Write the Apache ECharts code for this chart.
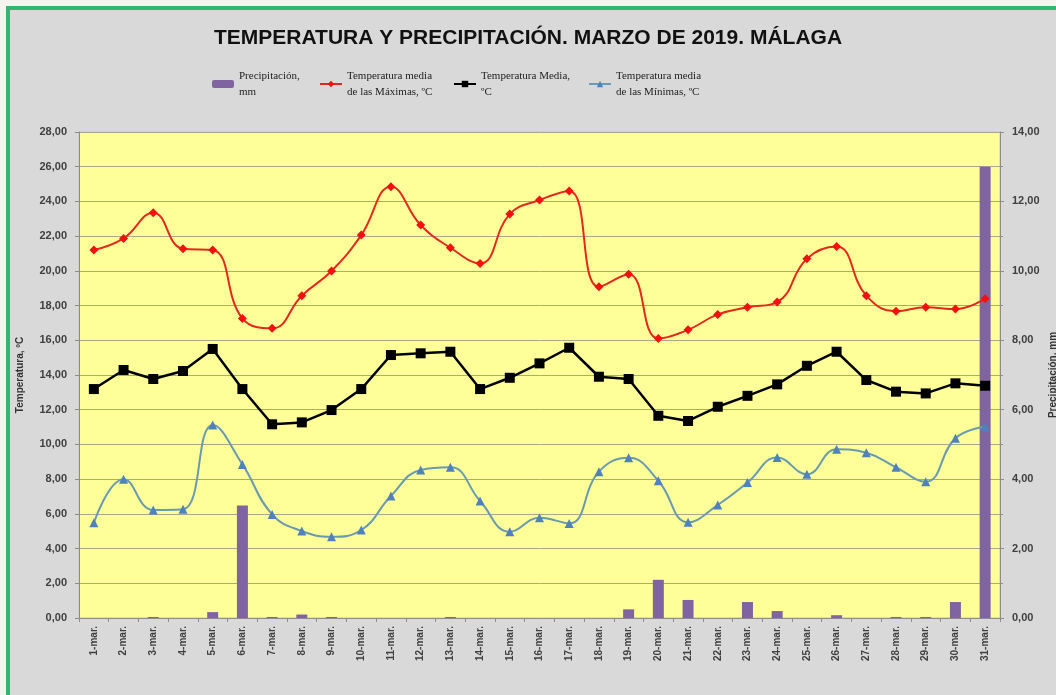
<!DOCTYPE html>
<html>
<head>
<meta charset="utf-8">
<script src="https://cdn.jsdelivr.net/npm/echarts@6/dist/echarts.min.js"></script>
<style>
html,body{margin:0;padding:0;background:#F5F5EE;width:1056px;height:695px;overflow:hidden;}
#bg{position:absolute;left:6px;top:6px;width:1046px;height:685px;border-left:4px solid #2EB872;border-top:4px solid #2EB872;background:#D9D9D9;}
#chart{position:absolute;left:0;top:0;width:1056px;height:695px;}
</style>
</head>
<body>
<div id="bg"></div>
<div id="chart"></div>
<script>
const days = ["1-mar.","2-mar.","3-mar.","4-mar.","5-mar.","6-mar.","7-mar.","8-mar.","9-mar.","10-mar.","11-mar.","12-mar.","13-mar.","14-mar.","15-mar.","16-mar.","17-mar.","18-mar.","19-mar.","20-mar.","21-mar.","22-mar.","23-mar.","24-mar.","25-mar.","26-mar.","27-mar.","28-mar.","29-mar.","30-mar.","31-mar."];
const precip = [0,0,0.03,0,0.17,3.24,0.03,0.1,0.03,0,0,0,0.03,0,0,0,0,0,0.25,1.1,0.52,0,0.46,0.2,0,0.08,0,0.03,0.03,0.46,13.0];
const tMax = [21.2,21.87,23.35,21.27,21.2,17.26,16.69,18.57,19.99,22.06,24.85,22.64,21.33,20.43,23.27,24.08,24.6,19.08,19.8,16.1,16.6,17.49,17.9,18.2,20.7,21.4,18.57,17.68,17.9,17.8,18.4];
const tMed = [13.19,14.29,13.77,14.23,15.5,13.19,11.16,11.27,11.98,13.19,15.15,15.25,15.34,13.19,13.84,14.67,15.57,13.9,13.77,11.65,11.35,12.17,12.8,13.46,14.53,15.34,13.71,13.04,12.94,13.52,13.38];
const tMin = [5.49,8.0,6.22,6.26,11.12,8.85,5.97,5.01,4.68,5.07,7.03,8.53,8.68,6.74,4.97,5.78,5.45,8.43,9.23,7.91,5.51,6.51,7.8,9.25,8.28,9.72,9.52,8.68,7.85,10.35,11.02];
const names = ["Precipitación,\nmm","Temperatura media\nde las Máximas, ºC","Temperatura Media,\nºC","Temperatura media\nde las Mínimas, ºC"];

const fmt = v => v.toFixed(2).replace('.', ',');
const legTxt = {fontFamily:'Liberation Serif',fontSize:11,color:'#222',lineHeight:16};
function leg(name, left){
  return {data:[name], left:left, top:68, itemWidth:22, itemHeight:8, itemGap:0, textStyle:legTxt, selectedMode:false, padding:0};
}
const axisLabelStyle = {fontFamily:'Liberation Sans',fontSize:11,fontWeight:'bold',color:'#404040'};
const chart = echarts.init(document.getElementById('chart'));
chart.setOption({
  animation:false,
  title:{text:'TEMPERATURA Y PRECIPITACIÓN. MARZO DE 2019. MÁLAGA',left:'center',top:23,
    textStyle:{fontFamily:'Liberation Sans',fontSize:21,fontWeight:'bold',color:'#111'}},
  legend:[leg(names[0],212),leg(names[1],319),leg(names[2],453),leg(names[3],588)],
  grid:{left:79,right:56,top:132,bottom:77,containLabel:false,outerBoundsMode:'none',show:true,backgroundColor:'#FFFF99',borderColor:'#C8C8A0',borderWidth:1},
  xAxis:{type:'category',data:days,boundaryGap:true,
    axisLine:{lineStyle:{color:'#8C8C8C'}},
    axisTick:{show:true,length:4,lineStyle:{color:'#8C8C8C'}},
    axisLabel:{rotate:90,fontFamily:'Liberation Sans',fontSize:10,fontWeight:'bold',color:'#404040',margin:8,interval:0}},
  yAxis:[
    {type:'value',min:0,max:28,interval:2,name:'Temperatura, ºC',nameLocation:'middle',nameGap:54,nameMoveOverlap:false,
      nameTextStyle:{fontFamily:'Liberation Sans',fontSize:10,fontWeight:'bold',color:'#333'},
      axisLine:{show:true,lineStyle:{color:'#8C8C8C'}},axisTick:{show:true,length:4,lineStyle:{color:'#8C8C8C'}},
      axisLabel:Object.assign({formatter:fmt,margin:12},axisLabelStyle),
      splitLine:{show:true,lineStyle:{color:'#A8A88A',width:1}}},
    {type:'value',min:0,max:14,interval:2,name:'Precipitación, mm',nameLocation:'middle',nameGap:48,nameRotate:90,nameMoveOverlap:false,
      nameTextStyle:{fontFamily:'Liberation Sans',fontSize:10,fontWeight:'bold',color:'#333'},
      axisLine:{show:true,lineStyle:{color:'#8C8C8C'}},axisTick:{show:true,length:4,lineStyle:{color:'#8C8C8C'}},
      minorTick:{show:true,splitNumber:2,length:3,lineStyle:{color:'#8C8C8C'}},
      axisLabel:Object.assign({formatter:fmt,margin:12},axisLabelStyle),
      splitLine:{show:false}}
  ],
  series:[
    {name:names[0],type:'bar',yAxisIndex:1,data:precip,barWidth:11,itemStyle:{color:'#8064A2'}},
    {name:names[1],type:'line',data:tMax,smooth:0.45,symbol:'diamond',symbolSize:9,
      lineStyle:{color:'#E22A1C',width:2},itemStyle:{color:'#F21010'}},
    {name:names[2],type:'line',data:tMed,smooth:false,symbol:'rect',symbolSize:10,
      lineStyle:{color:'#000',width:2.5},itemStyle:{color:'#000'}},
    {name:names[3],type:'line',data:tMin,smooth:0.45,symbol:'triangle',symbolSize:9,
      lineStyle:{color:'#6A9AB0',width:2},itemStyle:{color:'#4F81BD'}}
  ]
});
</script>
</body>
</html>
